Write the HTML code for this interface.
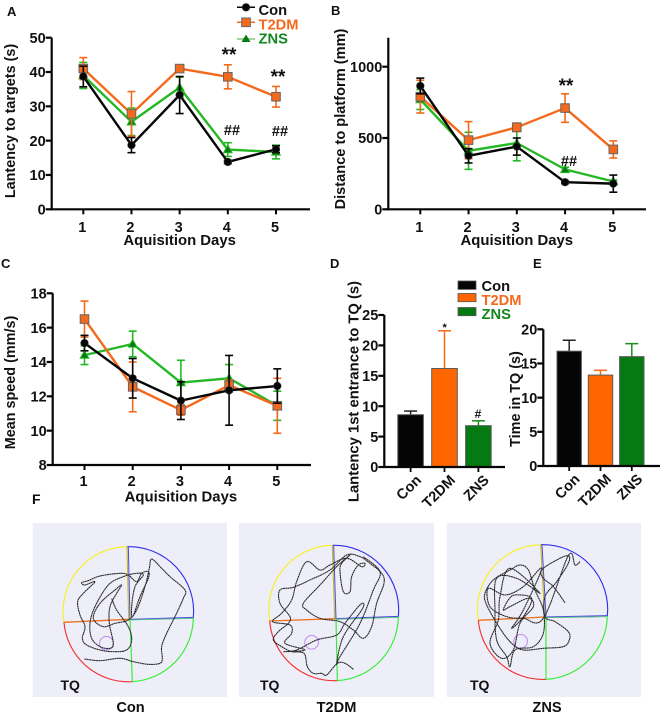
<!DOCTYPE html>
<html lang="en">
<head>
<meta charset="utf-8">
<title>Behavioural test figure</title>
<style>
html,body{margin:0;padding:0;background:#fff;}
#figure{display:block;width:661px;height:716px;filter:blur(0.35px);}
text{font-family:"Liberation Sans",sans-serif;font-weight:bold;fill:#111;}
</style>
</head>
<body>
<svg id="figure" xmlns="http://www.w3.org/2000/svg" width="661" height="716" viewBox="0 0 661 716"></svg>
<script>
// ---- chart data ----
const days = [1, 2, 3, 4, 5];
const groups = ['Con', 'T2DM', 'ZNS'];

const latencyTicks = [0, 10, 20, 30, 40, 50];
const latencyCon = [38.7, 18.7, 33.3, 13.8, 17.5];
const latencyConErr = [3, 2.2, 5.4, 0.5, 1];
const latencyT2dm = [41, 27.8, 41, 38.6, 32.8];
const latencyT2dmErr = [3.2, 6.5, 0.5, 3.5, 3];
const latencyZns = [39, 25.5, 35.5, 17.4, 16.7];
const latencyZnsErr = [3.8, 4, 3, 2, 2];

const distanceTicks = [0, 500, 1000];
const distanceCon = [865, 375, 440, 190, 180];
const distanceConErr = [55, 50, 60, 10, 60];
const distanceT2dm = [790, 485, 575, 710, 420];
const distanceT2dmErr = [115, 130, 30, 100, 60];
const distanceZns = [770, 410, 465, 280, 195];
const distanceZnsErr = [70, 130, 125, 15, 10];

const speedTicks = [8, 10, 12, 14, 16, 18];
const speedCon = [15.1, 13.05, 11.75, 12.35, 12.6];
const speedConErr = [0.45, 1.15, 1.1, 2.03, 1];
const speedT2dm = [16.5, 12.55, 11.2, 12.65, 11.45];
const speedT2dmErr = [1.05, 1.45, 0.3, 0.3, 1.6];
const speedZns = [14.4, 15.05, 12.8, 13.05, 11.45];
const speedZnsErr = [0.55, 0.75, 1.3, 0.8, 0.85];

const firstEntryTicks = [0, 5, 10, 15, 20, 25];
const firstEntryValues = [8.6, 16.2, 6.8];
const firstEntryErr = [0.6, 6.2, 0.8];

const timeTicks = [0, 5, 10, 15, 20];
const timeValues = [16.8, 13.3, 16.0];
const timeErr = [1.6, 0.7, 1.9];

// swim tracks, in arena image units
const trackCon = [[193,447],[240,452],[300,445],[340,455],[385,463],[420,460],[427,445],[425,410],[440,370],[465,320],[490,265],[495,240],[450,200],[425,175],[395,147],[388,175],[375,230],[350,300],[325,330],[285,340],[250,350],[220,325],[240,280],[285,240],[305,225],[290,250],[270,290],[268,340],[280,400],[270,415],[240,410],[215,385],[210,340],[225,290],[265,225],[310,200],[350,190],[370,195],[345,230],[335,290],[338,320],[360,260],[385,205],[385,185],[365,190],[350,215],[325,195],[300,190],[240,198],[205,212],[185,218],[195,225],[225,215],[190,250],[173,275],[180,315],[195,350],[187,385],[200,405],[240,420],[280,425],[320,420],[335,390],[325,350],[290,300],[275,265]];
const trackT2dm = [[370,478],[345,460],[322,460],[290,495],[275,490],[250,490],[232,470],[222,430],[185,425],[155,410],[130,390],[145,365],[175,340],[180,320],[150,280],[150,240],[190,232],[240,210],[300,180],[350,135],[390,140],[420,160],[455,190],[462,220],[440,280],[425,350],[400,385],[370,360],[330,335],[270,325],[230,300],[220,280],[270,225],[320,170],[360,135],[335,160],[330,185],[340,245],[360,245],[365,200],[385,165],[405,160],[395,170],[350,145],[300,165],[270,180],[230,155],[200,215],[185,270],[155,310],[128,335],[180,345],[185,370],[165,400],[225,420],[160,425],[200,420],[260,390],[320,375],[345,340],[385,290],[400,280],[395,300],[340,380],[320,460],[330,440],[390,340],[430,240],[450,185],[400,140]];
const trackZns = [[375,278],[340,230],[310,205],[305,180],[350,150],[385,137],[385,160],[350,215],[315,260],[315,320],[345,335],[385,365],[388,390],[370,410],[310,415],[250,420],[215,400],[180,355],[140,285],[135,250],[160,210],[210,180],[240,165],[265,180],[285,240],[310,300],[310,370],[280,410],[225,420],[210,470],[200,440],[170,390],[165,300],[170,205],[230,205],[300,250],[210,175],[180,260],[175,330],[150,400],[185,445],[220,420],[240,340],[280,290],[265,265],[210,290],[190,300],[205,270],[225,255],[275,265],[250,320],[215,355],[250,300],[305,175],[250,230],[195,255],[145,235],[150,290],[200,320],[250,325],[310,325],[385,137],[405,165],[420,155]];

// ---- drawing helpers ----
const svg = document.getElementById('figure');
const NS = 'http://www.w3.org/2000/svg';
const BLACK = '#050505';
const ORANGE = '#f4691c';
const BAR_ORANGE = '#ff6600';
const GREEN_LINE = '#25b825';
const GREEN_DARK = '#067a12';
const GREEN_TEXT = '#12861f';

function make(tag, name, attrs, parent) {
  const el = document.createElementNS(NS, tag);
  
  
  for (const k in attrs) el.setAttribute(k, attrs[k]);
  (parent || svg).appendChild(el);
  return el;
}
function label(name, str, x, y, size, attrs, parent) {
  const el = make('text', name, Object.assign({x: x, y: y, 'font-size': size}, attrs || {}), parent);
  el.textContent = str;
  return el;
}
function linear(d0, d1, r0, r1) {
  return v => r0 + (v - d0) * (r1 - r0) / (d1 - d0);
}
function line(name, x1, y1, x2, y2, color, w, parent) {
  return make('line', name, {x1: x1, y1: y1, x2: x2, y2: y2, stroke: color, 'stroke-width': w}, parent);
}
function drawYAxis(g, prefix, xAxis, yTop, yBottom, ticks, yScale, fontSize) {
  line(prefix + '-y-axis', xAxis, yTop, xAxis, yBottom + 1, BLACK, 2.2, g);
  ticks.forEach(t => {
    line(prefix + '-y-tick', xAxis - 6, yScale(t), xAxis, yScale(t), BLACK, 2.2, g);
    label(prefix + '-y-tick-label', String(t), xAxis - 6, yScale(t) + 5.2, fontSize, {'text-anchor': 'end'}, g);
  });
}
function marker(kind, x, y, g, prefix) {
  if (kind === 'circle') {
    make('circle', prefix + '-marker', {cx: x, cy: y, r: 3.8, fill: BLACK, stroke: '#333', 'stroke-width': 0.6}, g);
  } else if (kind === 'square') {
    make('rect', prefix + '-marker', {x: x - 4.3, y: y - 4.3, width: 8.6, height: 8.6, fill: ORANGE, stroke: '#666', 'stroke-width': 1}, g);
  } else {
    make('polygon', prefix + '-marker', {points: [x, y - 4.4, x + 4.3, y + 3.2, x - 4.3, y + 3.2].join(' '), fill: GREEN_DARK, stroke: GREEN_LINE, 'stroke-width': 1}, g);
  }
}
function drawSeries(g, prefix, values, errs, xScale, yScale, color, kind) {
  const s = make('g', prefix + '-series', {}, g);
  values.forEach((v, i) => {
    const x = xScale(days[i]);
    const top = yScale(v + errs[i]);
    const bot = yScale(v - errs[i]);
    line(prefix + '-error-bar', x, top, x, bot, color, 1.6, s);
    line(prefix + '-error-cap', x - 4, top, x + 4, top, color, 1.6, s);
    line(prefix + '-error-cap', x - 4, bot, x + 4, bot, color, 1.6, s);
  });
  make('polyline', prefix + '-line', {
    points: values.map((v, i) => xScale(days[i]) + ',' + yScale(v)).join(' '),
    fill: 'none', stroke: color, 'stroke-width': 2.4, 'stroke-linejoin': 'round'
  }, s);
  values.forEach((v, i) => marker(kind, xScale(days[i]), yScale(v), s, prefix));
}
function drawLineChart(cfg) {
  const g = make('g', cfg.name, {});
  const xScale = linear(1, 5, cfg.x1, cfg.x5);
  const yScale = linear(cfg.dMin, cfg.dMax, cfg.yBottom, cfg.yMaxPx);
  drawSeries(g, cfg.name + '-zns', cfg.zns, cfg.znsErr, xScale, yScale, GREEN_LINE, 'triangle');
  drawSeries(g, cfg.name + '-t2dm', cfg.t2dm, cfg.t2dmErr, xScale, yScale, ORANGE, 'square');
  drawSeries(g, cfg.name + '-con', cfg.con, cfg.conErr, xScale, yScale, BLACK, 'circle');
  drawYAxis(g, cfg.name, cfg.xAxis, cfg.yTop, cfg.yBottom, cfg.ticks, yScale, 14.5);
  line(cfg.name + '-x-axis', cfg.xAxis - 1, cfg.yBottom, cfg.xEnd, cfg.yBottom, BLACK, 2.2, g);
  days.forEach(d => {
    line(cfg.name + '-x-tick', xScale(d), cfg.yBottom, xScale(d), cfg.yBottom + 5, BLACK, 2, g);
    label(cfg.name + '-x-tick-label', String(d), xScale(d) - 1, cfg.yBottom + cfg.tickDrop, 14.5, {'text-anchor': 'middle'}, g);
  });
  label(cfg.name + '-x-axis-title', 'Aquisition Days', (cfg.x1 + cfg.x5) / 2, cfg.yBottom + cfg.titleDrop, 14.9, {'text-anchor': 'middle'}, g);
  label(cfg.name + '-y-axis-title', cfg.title, 0, 0, cfg.titleSize, {
    'text-anchor': 'middle',
    transform: 'translate(' + cfg.titleX + ',' + cfg.titleY + ') rotate(-90)'
  }, g);
}
function drawBarChart(cfg) {
  const g = make('g', cfg.name, {});
  const yScale = linear(0, cfg.dMax, cfg.yBottom, cfg.yMaxPx);
  const fills = [BLACK, BAR_ORANGE, GREEN_DARK];
  const tones = ['#222', ORANGE, '#1c8a1c'];
  cfg.values.forEach((v, i) => {
    const cx = cfg.start + i * cfg.step;
    const top = yScale(v);
    const errTop = yScale(v + cfg.errs[i]);
    line(cfg.name + '-error-bar', cx, top, cx, errTop, tones[i], 1.5, g);
    line(cfg.name + '-error-cap', cx - 6.5, errTop, cx + 6.5, errTop, tones[i], 1.5, g);
    make('rect', cfg.name + '-bar-' + groups[i].toLowerCase(), {
      x: cx - cfg.barWidth / 2, y: top, width: cfg.barWidth, height: cfg.yBottom - top,
      fill: fills[i], stroke: '#5a5a5a', 'stroke-width': 1
    }, g);
    line(cfg.name + '-x-tick', cx, cfg.yBottom, cx, cfg.yBottom + 5, BLACK, 1.8, g);
    label(cfg.name + '-x-tick-label', groups[i], 0, 0, 14.5, {
      'text-anchor': 'end',
      transform: 'translate(' + (cx + 11.5) + ',' + (cfg.yBottom + 14) + ') rotate(-45)'
    }, g);
  });
  drawYAxis(g, cfg.name, cfg.xAxis, cfg.yTop, cfg.yBottom, cfg.ticks, yScale, 14.5);
  line(cfg.name + '-x-axis', cfg.xAxis - 1, cfg.yBottom, cfg.xEnd, cfg.yBottom, BLACK, 2.2, g);
  label(cfg.name + '-y-axis-title', cfg.title, 0, 0, cfg.titleSize, {
    'text-anchor': 'middle',
    transform: 'translate(' + cfg.titleX + ',' + cfg.titleY + ') rotate(-90)'
  }, g);
}
// Catmull-Rom smoothing through the track samples
function smoothPath(pts) {
  let d = 'M' + pts[0][0] + ' ' + pts[0][1];
  for (let i = 0; i < pts.length - 1; i++) {
    const p0 = pts[Math.max(i - 1, 0)];
    const p1 = pts[i];
    const p2 = pts[i + 1];
    const p3 = pts[Math.min(i + 2, pts.length - 1)];
    const c1x = p1[0] + (p2[0] - p0[0]) / 6;
    const c1y = p1[1] + (p2[1] - p0[1]) / 6;
    const c2x = p2[0] - (p3[0] - p1[0]) / 6;
    const c2y = p2[1] - (p3[1] - p1[1]) / 6;
    d += 'C' + c1x.toFixed(1) + ' ' + c1y.toFixed(1) + ' ' + c2x.toFixed(1) + ' ' + c2y.toFixed(1) + ' ' + p2[0] + ' ' + p2[1];
  }
  return d;
}
function drawArena(cfg) {
  const g = make('g', cfg.name, {});
  make('rect', cfg.name + '-background', {x: cfg.bgX, y: 523, width: cfg.bgW, height: 174, fill: '#eeeef9'}, g);
  const a = make('g', cfg.name + '-maze', {transform: 'translate(' + cfg.ox + ',510) scale(0.3333)'}, g);
  const R = 194;
  const arc = (name, p, q, color) => make('path', name, {
    d: 'M' + p[0] + ' ' + p[1] + 'A' + R + ' ' + R + ' 0 0 1 ' + q[0] + ' ' + q[1],
    fill: 'none', stroke: color, 'stroke-width': 3.4
  }, a);
  arc(cfg.name + '-arc-yellow', cfg.left, cfg.top, '#f8f020');
  arc(cfg.name + '-arc-blue', cfg.top, cfg.right, '#3030f0');
  arc(cfg.name + '-arc-green', cfg.right, cfg.bottom, '#30f030');
  arc(cfg.name + '-arc-red', cfg.bottom, cfg.left, '#f03030');
  const c = cfg.center;
  line(cfg.name + '-divider-top', c[0] - 1, c[1], cfg.top[0] - 1, cfg.top[1], '#c8b820', 3.2, a);
  line(cfg.name + '-divider-top-blue', c[0] + 3, c[1], cfg.top[0] + 3, cfg.top[1], '#4a4ae0', 3, a);
  line(cfg.name + '-divider-left', c[0], c[1] + 1, cfg.left[0], cfg.left[1] + 1, '#f07020', 4, a);
  line(cfg.name + '-divider-right', c[0], c[1] + 1, cfg.right[0], cfg.right[1] - 1, '#4a4ae0', 3, a);
  line(cfg.name + '-divider-right-green', c[0], c[1] + 3, cfg.right[0], cfg.right[1] + 2, '#50c080', 2.6, a);
  line(cfg.name + '-divider-bottom', c[0] + 3, c[1], cfg.bottom[0], cfg.bottom[1], '#30ee30', 3.4, a);
  make('circle', cfg.name + '-target-zone', {cx: cfg.target[0], cy: cfg.target[1], r: 20.5, fill: 'none', stroke: '#c08cf0', 'stroke-width': 3}, a);
  make('path', cfg.name + '-swim-track', {
    d: smoothPath(cfg.track), fill: 'none', stroke: '#262626', 'stroke-width': 3.2, 'stroke-dasharray': '6 1', 'stroke-linejoin': 'round'
  }, a);
  label(cfg.name + '-tq-label', 'TQ', cfg.tqX, 690, 14, {}, g);
  label(cfg.name + '-caption', cfg.caption, cfg.capX, 712, 14.6, {'text-anchor': 'middle'}, g);
}
function annotate(name, str, x, y, size) {
  label(name, str, x, y, size, {'text-anchor': 'middle', 'fill': '#111'});
}

// ---- panel letters ----
label('panel-letter-a', 'A', 7, 16, 13);
label('panel-letter-b', 'B', 331, 15, 13);
label('panel-letter-c', 'C', 1, 268, 13);
label('panel-letter-d', 'D', 330, 268, 13);
label('panel-letter-e', 'E', 533, 268, 13);
label('panel-letter-f', 'F', 32, 504, 14);

// ---- line charts ----
drawLineChart({name: 'latency-chart', con: latencyCon, conErr: latencyConErr, t2dm: latencyT2dm, t2dmErr: latencyT2dmErr, zns: latencyZns, znsErr: latencyZnsErr,
  ticks: latencyTicks, dMin: 0, dMax: 50, yBottom: 209.3, yMaxPx: 37.7, yTop: 37.7, xAxis: 51.7, xEnd: 310, x1: 83.3, x5: 276, tickDrop: 22.5, titleDrop: 35.5,
  title: 'Lantency to targets (s)', titleSize: 14.4, titleX: 15, titleY: 121});
drawLineChart({name: 'distance-chart', con: distanceCon, conErr: distanceConErr, t2dm: distanceT2dm, t2dmErr: distanceT2dmErr, zns: distanceZns, znsErr: distanceZnsErr,
  ticks: distanceTicks, dMin: 0, dMax: 1000, yBottom: 209.3, yMaxPx: 66.7, yTop: 37.7, xAxis: 388.3, xEnd: 646, x1: 420.3, x5: 613.3, tickDrop: 22.5, titleDrop: 35.5,
  title: 'Distance to platform (mm)', titleSize: 14.6, titleX: 345, titleY: 119});
drawLineChart({name: 'speed-chart', con: speedCon, conErr: speedConErr, t2dm: speedT2dm, t2dmErr: speedT2dmErr, zns: speedZns, znsErr: speedZnsErr,
  ticks: speedTicks, dMin: 8, dMax: 18, yBottom: 465, yMaxPx: 293.3, yTop: 293.3, xAxis: 52.7, xEnd: 311, x1: 84.5, x5: 277.3, tickDrop: 21, titleDrop: 36.7,
  title: 'Mean speed (mm/s)', titleSize: 14.4, titleX: 15, titleY: 382.5});

annotate('latency-day4-significance', '**', 229, 61, 19);
annotate('latency-day5-significance', '**', 278, 83, 19);
annotate('latency-day4-hash', '##', 232, 135, 14.5);
annotate('latency-day5-hash', '##', 280, 136, 14.5);
annotate('distance-day4-significance', '**', 566, 92, 19);
annotate('distance-day4-hash', '##', 569, 166, 14.5);

// ---- legend for line charts ----
const legendA = make('g', 'line-chart-legend', {});
line('legend-line-con', 237, 7.3, 255, 7.3, BLACK, 1.5, legendA);
marker('circle', 246, 7.3, legendA, 'legend-con');
label('legend-label-con', 'Con', 258.5, 15, 14.7, {}, legendA);
line('legend-line-t2dm', 237, 22.3, 255, 22.3, ORANGE, 1.5, legendA);
marker('square', 246, 22.3, legendA, 'legend-t2dm');
label('legend-label-t2dm', 'T2DM', 258.5, 29.5, 14.7, {style: 'fill:' + ORANGE}, legendA);
line('legend-line-zns', 237, 39, 255, 39, '#7fc87f', 1.5, legendA);
make('polygon', 'legend-zns-marker', {points: '246,34.5 250.5,42 241.5,42', fill: GREEN_DARK}, legendA);
label('legend-label-zns', 'ZNS', 258.5, 43.5, 14.7, {style: 'fill:' + GREEN_TEXT}, legendA);

// ---- bar charts ----
drawBarChart({name: 'first-entry-chart', values: firstEntryValues, errs: firstEntryErr, ticks: firstEntryTicks, dMax: 25,
  yBottom: 467, yMaxPx: 315, yTop: 315, xAxis: 384.3, xEnd: 505, start: 410.6, step: 33.9, barWidth: 25.6,
  title: 'Lantency 1st entrance to TQ (s)', titleSize: 14.8, titleX: 358.5, titleY: 391.5});
drawBarChart({name: 'time-in-tq-chart', values: timeValues, errs: timeErr, ticks: timeTicks, dMax: 20,
  yBottom: 466, yMaxPx: 329.3, yTop: 329.3, xAxis: 543.3, xEnd: 660, start: 569.2, step: 31.3, barWidth: 24.4,
  title: 'Time in TQ (s)', titleSize: 14.4, titleX: 520, titleY: 399});
annotate('first-entry-t2dm-significance', '*', 444.7, 331, 11);
annotate('first-entry-zns-hash', '#', 478, 418, 12);

const legendD = make('g', 'bar-chart-legend', {});
make('rect', 'legend-swatch-con', {x: 458, y: 281, width: 18, height: 8.4, fill: BLACK, stroke: '#555', 'stroke-width': 0.8}, legendD);
make('rect', 'legend-swatch-t2dm', {x: 458, y: 293.5, width: 18, height: 8.2, fill: BAR_ORANGE, stroke: '#555', 'stroke-width': 0.8}, legendD);
make('rect', 'legend-swatch-zns', {x: 458, y: 307.5, width: 18, height: 8.2, fill: GREEN_DARK, stroke: '#555', 'stroke-width': 0.8}, legendD);
label('bar-legend-label-con', 'Con', 481.5, 291, 14.7, {}, legendD);
label('bar-legend-label-t2dm', 'T2DM', 481.5, 305, 14.7, {style: 'fill:' + ORANGE}, legendD);
label('bar-legend-label-zns', 'ZNS', 481.5, 319, 14.7, {style: 'fill:' + GREEN_TEXT}, legendD);

// ---- arena panels ----
drawArena({name: 'arena-con', caption: 'Con', bgX: 32.7, bgW: 194.3, ox: 20, track: trackCon,
  center: [327, 327], top: [322, 110], right: [520, 323], bottom: [337, 515], left: [132, 336], target: [259, 400], tqX: 60.5, capX: 130.5});
drawArena({name: 'arena-t2dm', caption: 'T2DM', bgX: 239, bgW: 195, ox: 230, track: trackT2dm,
  center: [315, 325], top: [308, 106], right: [505, 320], bottom: [322, 512], left: [119, 332], target: [245, 397], tqX: 260, capX: 336.5});
drawArena({name: 'arena-zns', caption: 'ZNS', bgX: 446.7, bgW: 194.3, ox: 440, track: trackZns,
  center: [315, 320], top: [303, 104], right: [502, 318], bottom: [318, 508], left: [115, 330], target: [242, 394], tqX: 470, capX: 547});
</script>
</body>
</html>
